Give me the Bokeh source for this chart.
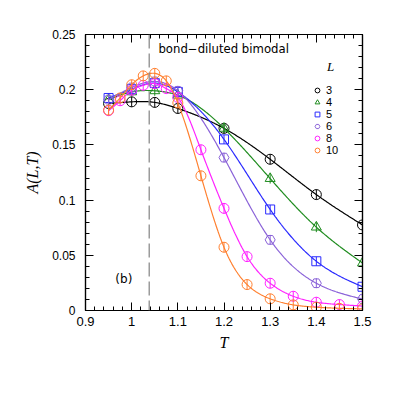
import numpy as np
from bokeh.plotting import figure
from bokeh.models import (Range1d, LinearAxis, FixedTicker, CustomJSTickFormatter,
                          Span, Label, Legend, LegendItem)
from bokeh.embed import file_html
from bokeh.resources import INLINE

# ---------------- data ----------------
T_coarse = [0.95, 1.0, 1.05, 1.1, 1.2, 1.3, 1.4, 1.5]
T_fine = [0.95, 0.975, 1.0, 1.025, 1.05, 1.075, 1.1, 1.15, 1.2, 1.25, 1.3, 1.35, 1.4, 1.45, 1.5]

A_L3 = [0.1875, 0.189, 0.1885, 0.183, 0.165, 0.137, 0.105, 0.0775]
A_L4 = [0.191, 0.198, 0.199, 0.195, 0.165, 0.1195, 0.0755, 0.043]
A_L5 = [0.1925, 0.2005, 0.206, 0.198, 0.155, 0.0915, 0.0446, 0.0215]
A_L6 = [0.191, 0.202, 0.2075, 0.199, 0.1385, 0.064, 0.0247, 0.0104]
A_L8 = [0.181, 0.190, 0.1995, 0.204, 0.2055, 0.201, 0.193, 0.1456, 0.0925, 0.0488,
        0.0247, 0.0129, 0.0075, 0.0054, 0.004]
A_L10 = [0.1815, 0.1925, 0.2045, 0.2125, 0.2148, 0.208, 0.188, 0.122, 0.0573, 0.0235,
         0.0106, 0.0051, 0.003, 0.002, 0.0015]

sizes_L = ["3", "4", "5", "6", "8", "10"]
x_ticks = [0.9, 1.0, 1.1, 1.2, 1.3, 1.4, 1.5]
y_ticks = [0.0, 0.05, 0.1, 0.15, 0.2, 0.25]
T_c = 1.038

series = [
    ("3", T_coarse, A_L3, "black", "circle", 10),
    ("4", T_coarse, A_L4, "#1f8c1f", "triangle", 10),
    ("5", T_coarse, A_L5, "#2a2aff", "square", 9),
    ("6", T_coarse, A_L6, "#8a62d8", "hex", 10),
    ("8", T_fine, A_L8, "#ff22ff", "circle", 10),
    ("10", T_fine, A_L10, "#ff8030", "circle", 10),
]


def natural_spline(x, y, xs):
    x = np.asarray(x, float)
    y = np.asarray(y, float)
    n = len(x)
    h = np.diff(x)
    M = np.zeros(n)
    if n > 2:
        A = np.zeros((n - 2, n - 2))
        r = np.zeros(n - 2)
        for i in range(n - 2):
            A[i, i] = 2 * (h[i] + h[i + 1])
            if i > 0:
                A[i, i - 1] = h[i]
            if i < n - 3:
                A[i, i + 1] = h[i + 1]
            r[i] = 6 * ((y[i + 2] - y[i + 1]) / h[i + 1] - (y[i + 1] - y[i]) / h[i])
        M[1:-1] = np.linalg.solve(A, r)
    idx = np.clip(np.searchsorted(x, xs) - 1, 0, n - 2)
    x0, x1 = x[idx], x[idx + 1]
    y0, y1 = y[idx], y[idx + 1]
    m0, m1 = M[idx], M[idx + 1]
    hh = x1 - x0
    a = (x1 - xs) / hh
    b = (xs - x0) / hh
    return a * y0 + b * y1 + ((a ** 3 - a) * m0 + (b ** 3 - b) * m1) * hh ** 2 / 6


p = figure(frame_width=277, frame_height=276, output_backend="svg", toolbar_location=None,
           x_range=Range1d(0.9, 1.5), y_range=Range1d(0, 0.25),
           min_border_left=85, min_border_right=25, min_border_top=34, min_border_bottom=77,
           background_fill_color="white", border_fill_color="white")
p.grid.visible = False
p.outline_line_color = "black"
p.outline_line_width = 1.2

fmt = CustomJSTickFormatter(code="return Number(tick.toFixed(2)).toString();")
x_minor = [round(0.9 + 0.02 * i, 2) for i in range(31)]
y_minor = [round(0.01 * i, 2) for i in range(26)]


def style_axis(ax, ticks, minor, font_size, show_labels=True):
    ax.ticker = FixedTicker(ticks=ticks, minor_ticks=minor)
    ax.major_tick_in = 8
    ax.major_tick_out = 0
    ax.minor_tick_in = 4
    ax.minor_tick_out = 0
    ax.axis_line_color = "black"
    ax.axis_line_width = 1.2
    ax.major_tick_line_color = "black"
    ax.minor_tick_line_color = "black"
    if show_labels:
        ax.formatter = fmt
        ax.major_label_text_font = "Liberation Sans"
        ax.major_label_text_color = "black"
        ax.major_label_text_font_size = font_size
    else:
        ax.major_label_text_color = None
        ax.major_label_text_font_size = "1px"
        ax.major_label_standoff = 0


style_axis(p.xaxis[0], x_ticks, x_minor, "13px")
style_axis(p.yaxis[0], y_ticks, y_minor, "12px")
p.xaxis[0].major_label_standoff = 6
p.yaxis[0].major_label_standoff = 10

p.xaxis[0].axis_label = "T"
p.yaxis[0].axis_label = "A(L,T)"
for ax in (p.xaxis[0], p.yaxis[0]):
    ax.axis_label_text_font = "Liberation Serif"
    ax.axis_label_text_font_style = "italic"
    ax.axis_label_text_font_size = "16px"
    ax.axis_label_text_color = "black"
p.xaxis[0].axis_label_standoff = 5
p.yaxis[0].axis_label_standoff = 8

top_ax = LinearAxis()
style_axis(top_ax, x_ticks, x_minor, "1px", show_labels=False)
p.add_layout(top_ax, "above")
right_ax = LinearAxis()
style_axis(right_ax, y_ticks, y_minor, "1px", show_labels=False)
p.add_layout(right_ax, "right")

# dashed vertical line
p.add_layout(Span(location=T_c, dimension="height", line_color="#8c8c8c",
                  line_width=1.3, line_dash="14 5"))

legend_items = []
for label, T, A, color, marker, size in series:
    xs = np.linspace(min(T), max(T), 300)
    ys = natural_spline(T, A, xs)
    p.line(xs, ys, line_color=color, line_width=1.2)
    p.scatter(T, A, marker=marker, size=size, fill_color=None,
              line_color=color, line_width=1.0)
    p.scatter(T, A, marker="dash", size=size, angle=np.pi / 2,
              line_color=color, line_width=1.0)
    # legend proxy (not drawn in the plot area: NaN position)
    proxy = p.scatter([np.nan], [np.nan], marker=marker, size=9, fill_color=None,
                      line_color=color, line_width=1.0)
    legend_items.append(LegendItem(label=label, renderers=[proxy]))

legend = Legend(items=legend_items, location=(226, 154), glyph_width=12, glyph_height=12,
                label_height=12, spacing=0, label_standoff=3, padding=0, margin=0,
                border_line_color=None, background_fill_alpha=0,
                label_text_font="Liberation Sans", label_text_font_size="11px",
                label_text_color="black", label_text_baseline="middle")
p.add_layout(legend, "center")

p.add_layout(Label(x=1.4307, y=0.2211, text="L", text_font="Liberation Serif",
                   text_font_style="italic", text_font_size="13px", text_align="center",
                   text_baseline="middle", text_color="black"))
p.add_layout(Label(x=1.058, y=0.2369, text="bond\u2212diluted bimodal", text_font="DejaVu Sans",
                   text_font_size="11.7px", text_align="left", text_baseline="middle",
                   text_color="black"))
p.add_layout(Label(x=0.983, y=0.0289, text="(b)", text_font="DejaVu Sans",
                   text_font_size="12px", text_align="center", text_baseline="middle",
                   text_color="black"))

open("out.html", "w").write(file_html(p, INLINE))
